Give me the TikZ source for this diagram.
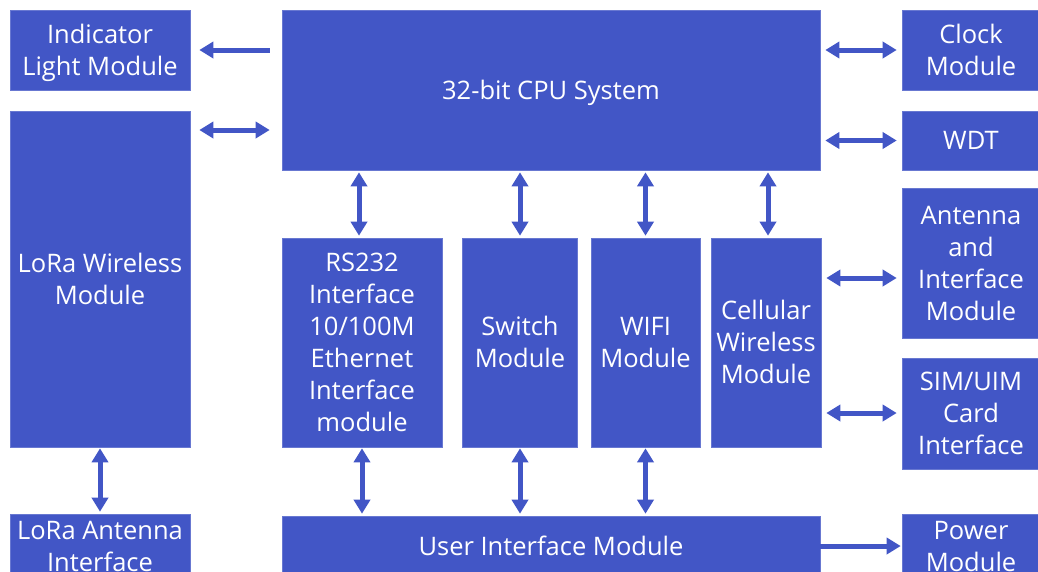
\documentclass[tikz,border=0pt]{standalone}
\usepackage{fontspec}
\setmainfont{Open Sans}
\usetikzlibrary{arrows.meta}
\definecolor{blockblue}{RGB}{66,86,198}
% centred block text on a 32pt line pitch, optically centred on the caps
\newcommand\blocktext[1]{\raisebox{-2.6pt}[\height][\depth]{%
  \begin{tabular}{@{}c@{}}#1\end{tabular}}}
\tikzset{
  block/.style={fill=blockblue, draw=blockblue!80!white, line width=0.6pt,
    text=white, inner sep=0pt,
    font=\fontsize{25.5}{32}\selectfont},
  link/.style={draw=blockblue, line width=5pt,
    -{Triangle[width=16pt,length=14pt]}},
  biglink/.style={draw=blockblue, line width=5pt,
    {Triangle[width=16pt,length=14pt]}-{Triangle[width=16pt,length=14pt]}}
}
\begin{document}
\begin{tikzpicture}[x=1pt,y=-1pt]
\useasboundingbox (0,0) rectangle (1038,571);
\clip (0,0) rectangle (1038,571);

% left column
\node[block, minimum width=180pt, minimum height=80pt] (ind) at (100,50) {\blocktext{Indicator\\Light Module}};
\node[block, minimum width=180pt, minimum height=336pt] (lora) at (100,279) {\blocktext{LoRa Wireless\\Module}};
\node[block, minimum width=180pt, minimum height=60pt] (loraant) at (100,546) {\blocktext{LoRa Antenna\\Interface}};

% centre
\node[block, minimum width=538pt, minimum height=160pt] (cpu) at (551,90) {\blocktext{32-bit CPU System}};
\node[block, minimum width=160pt, minimum height=209pt] (rs) at (362,342.5) {\blocktext{RS232\\Interface\\10/100M\\Ethernet\\Interface\\module}};
\node[block, minimum width=115pt, minimum height=209pt] (sw) at (520,342.5) {\blocktext{Switch\\Module}};
\node[block, minimum width=109pt, minimum height=209pt] (wifi) at (645.5,342.5) {\blocktext{WIFI\\Module}};
\node[block, minimum width=110pt, minimum height=209pt] (cell) at (766,342.5) {\blocktext{Cellular\\Wireless\\Module}};
\node[block, minimum width=538pt, minimum height=60pt] (ui) at (551,546) {\blocktext{User Interface Module}};

% right column
\node[block, minimum width=138pt, minimum height=80pt] (clk) at (971,50) {\blocktext{Clock\\Module}};
\node[block, minimum width=138pt, minimum height=59pt] (wdt) at (971,140.5) {\blocktext{WDT}};
\node[block, minimum width=138pt, minimum height=150pt] (ant) at (971,263) {\blocktext{Antenna\\and\\Interface\\Module}};
\node[block, minimum width=138pt, minimum height=111pt] (sim) at (971,413.5) {\blocktext{SIM/UIM\\Card\\Interface}};
\node[block, minimum width=138pt, minimum height=60pt] (pwr) at (971,546) {\blocktext{Power\\Module}};

% CPU to left column
\draw[link, shorten <=12pt, shorten >=9pt] (cpu.west |- ind.east) -- (ind.east);
\coordinate (lorarow) at (0,130);
\draw[biglink, shorten <=12pt, shorten >=9pt] (cpu.west |- lorarow) -- (lora.east |- lorarow);
\draw[biglink, shorten <=1pt, shorten >=2pt] (lora.south) -- (loraant.north);

% CPU to right column
\draw[biglink, shorten <=5pt, shorten >=5pt] (cpu.east |- clk.west) -- (clk.west);
\draw[biglink, shorten <=5pt, shorten >=5pt] (cpu.east |- wdt.west) -- (wdt.west);

% cellular to right column
\coordinate (antrow) at (0,278);
\coordinate (simrow) at (0,413);
\draw[biglink, shorten <=5pt, shorten >=5pt] (cell.east |- antrow) -- (ant.west |- antrow);
\draw[biglink, shorten <=5pt, shorten >=5pt] (cell.east |- simrow) -- (sim.west |- simrow);

% CPU to interface modules
\draw[biglink, shorten <=2pt, shorten >=2pt] ([xshift=-3pt]rs.north |- cpu.south) -- ([xshift=-3pt]rs.north);
\draw[biglink, shorten <=2pt, shorten >=2pt] (sw.north |- cpu.south) -- (sw.north);
\draw[biglink, shorten <=2pt, shorten >=2pt] (wifi.north |- cpu.south) -- (wifi.north);
\draw[biglink, shorten <=2pt, shorten >=2pt] ([xshift=2pt]cell.north |- cpu.south) -- ([xshift=2pt]cell.north);

% interface modules to user interface
\draw[biglink, shorten <=1pt, shorten >=2pt] (rs.south) -- (rs.south |- ui.north);
\draw[biglink, shorten <=1pt, shorten >=2pt] (sw.south) -- (sw.south |- ui.north);
\draw[biglink, shorten <=1pt, shorten >=2pt] (wifi.south) -- (wifi.south |- ui.north);

% user interface to power
\draw[link, shorten <=0pt, shorten >=1pt] (ui.east |- pwr.west) -- (pwr.west);
\end{tikzpicture}
\end{document}
